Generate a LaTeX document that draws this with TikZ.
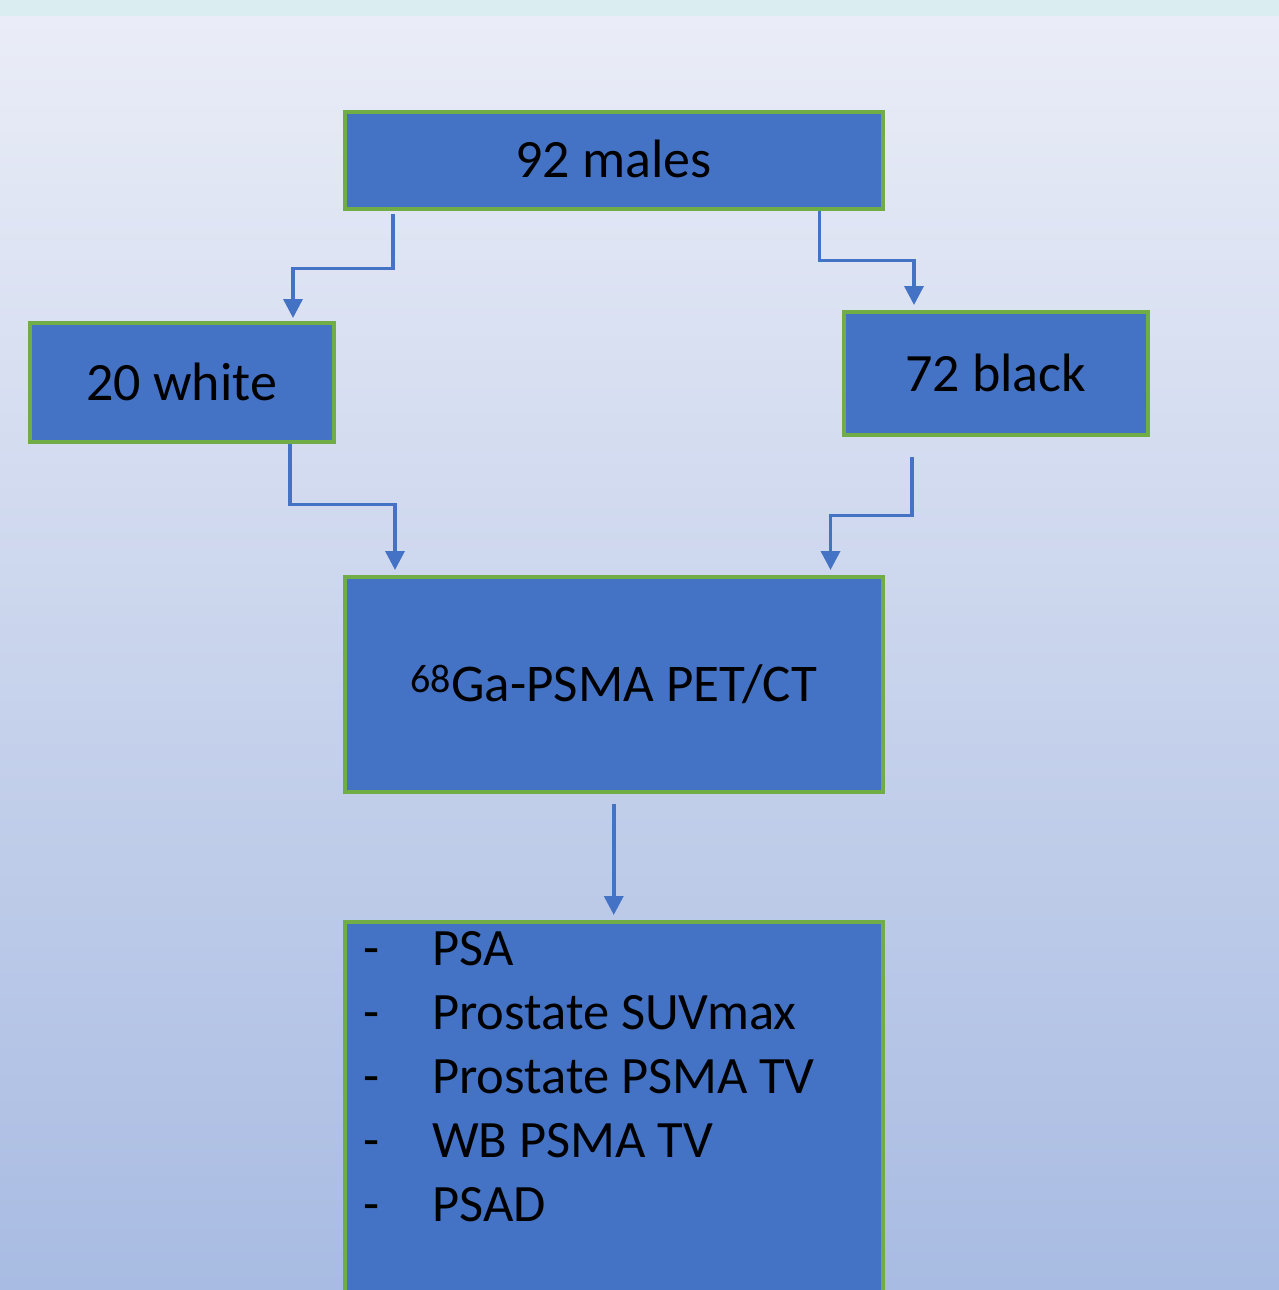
\documentclass[tikz,border=0pt]{standalone}
\usepackage{fontspec}
\setmainfont{Carlito}
\usetikzlibrary{calc,arrows.meta}
\definecolor{boxfill}{HTML}{4472C4}
\definecolor{boxedge}{HTML}{70AD47}
\definecolor{strip}{HTML}{DAEDF1}
\definecolor{bgtop}{HTML}{EAEDF7}
\definecolor{bgbot}{HTML}{A8BBE2}
\tikzset{
  flowbox/.style={draw=boxedge, line width=3.5pt, fill=boxfill, inner sep=0pt,
    anchor=north west, font=\fontsize{54}{62}\selectfont, text=black},
  conn/.style={draw=boxfill, line width=3.5pt,
    -{Triangle[length=19pt,width=19pt]}}
}
\begin{document}
\begin{tikzpicture}[x=1pt,y=1pt]
\useasboundingbox (0,0) rectangle (1279,-1290);
\fill[strip] (0,0) rectangle (1279,-17);
\shade[top color=bgtop, bottom color=bgbot] (0,-17) rectangle (1279,-1290);

\node[flowbox, minimum width=538pt, minimum height=97pt] (m) at (343,-110) {\raisebox{2pt}{92 males}};
\node[flowbox, minimum width=304pt, minimum height=119pt] (w) at (28,-321) {20 white};
\node[flowbox, minimum width=304pt, minimum height=123pt] (b) at (842,-310) {72 black};
\node[flowbox, minimum width=538pt, minimum height=215pt, font=\fontsize{53}{62}\selectfont] (pet) at (343,-575) {\raisebox{2pt}{\textsuperscript{\fontsize{40}{40}\selectfont 68}Ga-PSMA PET/CT}};
\node[flowbox, minimum width=538pt, minimum height=380pt] (out) at (343,-920) {};
\node[anchor=base west, inner sep=0pt, font=\fontsize{52.5}{64}\selectfont, text=black] (list) at (363,-965)
  {\begin{tabular}[t]{@{}p{69pt}@{}l@{}}
   - & PSA\\
   - & Prostate SUVmax\\
   - & Prostate PSMA TV\\
   - & WB PSMA TV\\
   - & PSAD
   \end{tabular}};

\draw[conn] ($(m.south west)+(50,-3)$) -- ++(0,-55) -| ($(w.north west)+(265,3)$);
\draw[conn] ($(m.south east)+(-65,0)$) -- ++(0,-50) -| ($(b.north west)+(72,5)$);
\draw[conn] ($(w.south west)+(262,0)$) -- ++(0,-61) -| ($(pet.north west)+(52,5)$);
\draw[conn] ($(b.south west)+(70,-20)$) -- ++(0,-59) -| ($(pet.north east)+(-54,5)$);
\draw[conn] ($(pet.south)+(0,-10)$) -- ($(out.north)+(0,5)$);
\end{tikzpicture}
\end{document}
